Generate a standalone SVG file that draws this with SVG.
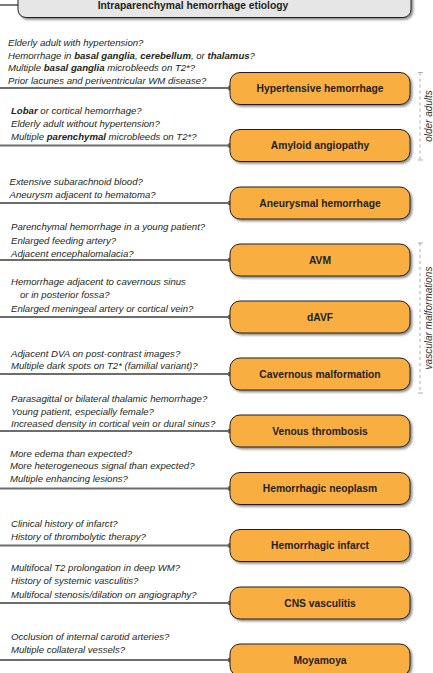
<svg xmlns="http://www.w3.org/2000/svg" width="433" height="673" viewBox="0 0 433 673">
<defs>
<filter id="sh" x="-10%" y="-20%" width="120%" height="160%">
<feDropShadow dx="1.8" dy="1.8" stdDeviation="1" flood-color="#000" flood-opacity="0.45"/>
</filter>
</defs>
<style>
.q{font-family:"Liberation Sans",Arial,sans-serif;font-style:italic;font-size:9.6px;fill:#231f20}
.q tspan.b{font-weight:bold}
.lbl{font-family:"Liberation Sans",Arial,sans-serif;font-weight:bold;font-size:10.3px;fill:#231f20;text-anchor:middle}
.box{fill:#f9ae42;stroke:#231f20;stroke-width:1;filter:url(#sh)}
.conn{stroke:#6d6d6d;stroke-width:1.8;fill:none}
.dot{fill:#6d6d6d}
.br{stroke:#9a9a9a;stroke-width:0.8;stroke-dasharray:3,3;fill:none}
.brt{stroke:#9a9a9a;stroke-width:0.8;fill:none}
.side{font-family:"Liberation Sans",Arial,sans-serif;font-style:italic;font-size:10px;fill:#333;text-anchor:middle}
</style>
<rect width="433" height="673" fill="#fff"/>
<g id="connectors">
<line class="conn" x1="0" y1="5" x2="18" y2="5"/>
<line class="conn" x1="0" y1="88" x2="230" y2="88"/><circle class="dot" cx="230" cy="88" r="2.5"/>
<line class="conn" x1="0" y1="145.5" x2="230" y2="145.5"/><circle class="dot" cx="230" cy="145.5" r="2.5"/>
<line class="conn" x1="0" y1="203" x2="230" y2="203"/><circle class="dot" cx="230" cy="203" r="2.5"/>
<line class="conn" x1="0" y1="260" x2="230" y2="260"/><circle class="dot" cx="230" cy="260" r="2.5"/>
<line class="conn" x1="0" y1="317" x2="230" y2="317"/><circle class="dot" cx="230" cy="317" r="2.5"/>
<line class="conn" x1="0" y1="374" x2="230" y2="374"/><circle class="dot" cx="230" cy="374" r="2.5"/>
<line class="conn" x1="0" y1="431" x2="230" y2="431"/><circle class="dot" cx="230" cy="431" r="2.5"/>
<line class="conn" x1="0" y1="488.5" x2="230" y2="488.5"/><circle class="dot" cx="230" cy="488.5" r="2.5"/>
<line class="conn" x1="0" y1="545.5" x2="230" y2="545.5"/><circle class="dot" cx="230" cy="545.5" r="2.5"/>
<line class="conn" x1="0" y1="603" x2="230" y2="603"/><circle class="dot" cx="230" cy="603" r="2.5"/>
<line class="conn" x1="0" y1="660" x2="230" y2="660"/><circle class="dot" cx="230" cy="660" r="2.5"/>
</g>
<g id="title">
<rect x="18" y="-10" width="393" height="27.5" rx="8" fill="#e6e6e6" stroke="#231f20" stroke-width="1" filter="url(#sh)"/>
<text class="lbl" x="193" y="9">Intraparenchymal hemorrhage etiology</text>
</g>
<g id="q-hypertensive">
<text class="q" x="8" y="46.2">Elderly adult with hypertension?</text>
<text class="q" x="8" y="58.7">Hemorrhage in <tspan class="b">basal ganglia</tspan>, <tspan class="b">cerebellum</tspan>, or <tspan class="b">thalamus</tspan>?</text>
<text class="q" x="8" y="71.2">Multiple <tspan class="b">basal ganglia</tspan> microbleeds on T2*?</text>
<text class="q" x="8" y="83.6">Prior lacunes and periventricular WM disease?</text>
</g>
<g id="hypertensive"><rect class="box" x="230" y="72.5" width="180" height="32" rx="10"/><text class="lbl" x="320" y="92">Hypertensive hemorrhage</text></g>
<g id="q-amyloid">
<text class="q" x="11" y="114.2"><tspan class="b">Lobar</tspan> or cortical hemorrhage?</text>
<text class="q" x="11" y="126.8">Elderly adult without hypertension?</text>
<text class="q" x="11" y="139.5">Multiple <tspan class="b">parenchymal</tspan> microbleeds on T2*?</text>
</g>
<g id="amyloid"><rect class="box" x="230" y="129.5" width="180" height="32" rx="10"/><text class="lbl" x="320" y="149.2">Amyloid angiopathy</text></g>
<g id="q-aneurysmal">
<text class="q" x="9.5" y="184.5">Extensive subarachnoid blood?</text>
<text class="q" x="9.5" y="197.5">Aneurysm adjacent to hematoma?</text>
</g>
<g id="aneurysmal"><rect class="box" x="230" y="187" width="180" height="32" rx="10"/><text class="lbl" x="320" y="206.7">Aneurysmal hemorrhage</text></g>
<g id="q-avm">
<text class="q" x="11" y="230.2">Parenchymal hemorrhage in a young patient?</text>
<text class="q" x="11" y="243.5">Enlarged feeding artery?</text>
<text class="q" x="11" y="256.8">Adjacent encephalomalacia?</text>
</g>
<g id="avm"><rect class="box" x="230" y="244" width="180" height="32" rx="10"/><text class="lbl" x="320" y="263.7">AVM</text></g>
<g id="q-davf">
<text class="q" x="11" y="284.5">Hemorrhage adjacent to cavernous sinus</text>
<text class="q" x="20" y="297.8">or in posterior fossa?</text>
<text class="q" x="11" y="311.5">Enlarged meningeal artery or cortical vein?</text>
</g>
<g id="davf"><rect class="box" x="230" y="301" width="180" height="32" rx="10"/><text class="lbl" x="320" y="320.7">dAVF</text></g>
<g id="q-cavernous">
<text class="q" x="11" y="356.8">Adjacent DVA on post-contrast images?</text>
<text class="q" x="11" y="369.2">Multiple dark spots on T2* (familial variant)?</text>
</g>
<g id="cavernous"><rect class="box" x="230" y="358" width="180" height="32" rx="10"/><text class="lbl" x="320" y="377.7">Cavernous malformation</text></g>
<g id="q-venous">
<text class="q" x="11" y="401.8">Parasagittal or bilateral thalamic hemorrhage?</text>
<text class="q" x="11" y="414.5">Young patient, especially female?</text>
<text class="q" x="11" y="427.2">Increased density in cortical vein or dural sinus?</text>
</g>
<g id="venous"><rect class="box" x="230" y="415" width="180" height="32" rx="10"/><text class="lbl" x="320" y="434.7">Venous thrombosis</text></g>
<g id="q-neoplasm">
<text class="q" x="10" y="456.8">More edema than expected?</text>
<text class="q" x="10" y="469.2">More heterogeneous signal than expected?</text>
<text class="q" x="10" y="481.8">Multiple enhancing lesions?</text>
</g>
<g id="neoplasm"><rect class="box" x="230" y="472.5" width="180" height="32" rx="10"/><text class="lbl" x="320" y="492.2">Hemorrhagic neoplasm</text></g>
<g id="q-infarct">
<text class="q" x="11" y="526.8">Clinical history of infarct?</text>
<text class="q" x="11" y="539.5">History of thrombolytic therapy?</text>
</g>
<g id="infarct"><rect class="box" x="230" y="529.5" width="180" height="32" rx="10"/><text class="lbl" x="320" y="549.2">Hemorrhagic infarct</text></g>
<g id="q-vasculitis">
<text class="q" x="11" y="571.2">Multifocal T2 prolongation in deep WM?</text>
<text class="q" x="11" y="584.2">History of systemic vasculitis?</text>
<text class="q" x="11" y="597.5">Multifocal stenosis/dilation on angiography?</text>
</g>
<g id="vasculitis"><rect class="box" x="230" y="587" width="180" height="32" rx="10"/><text class="lbl" x="320" y="606.7">CNS vasculitis</text></g>
<g id="q-moyamoya">
<text class="q" x="11" y="640.2">Occlusion of internal carotid arteries?</text>
<text class="q" x="11" y="652.8">Multiple collateral vessels?</text>
</g>
<g id="moyamoya"><rect class="box" x="230" y="644" width="180" height="32" rx="10"/><text class="lbl" x="320" y="663.7">Moyamoya</text></g>
<g id="bracket-older">
<line class="br" x1="420" y1="72.5" x2="420" y2="160"/>
<line class="brt" x1="418" y1="72.5" x2="423" y2="72.5"/>
<line class="brt" x1="418" y1="160" x2="423" y2="160"/>
<text class="side" transform="translate(432 116) rotate(-90)">older adults</text>
</g>
<g id="bracket-vascular">
<line class="br" x1="420" y1="243" x2="420" y2="393"/>
<line class="brt" x1="418" y1="243" x2="423" y2="243"/>
<line class="brt" x1="418" y1="393" x2="423" y2="393"/>
<text class="side" transform="translate(432 318) rotate(-90)">vascular malformations</text>
</g>
</svg>
